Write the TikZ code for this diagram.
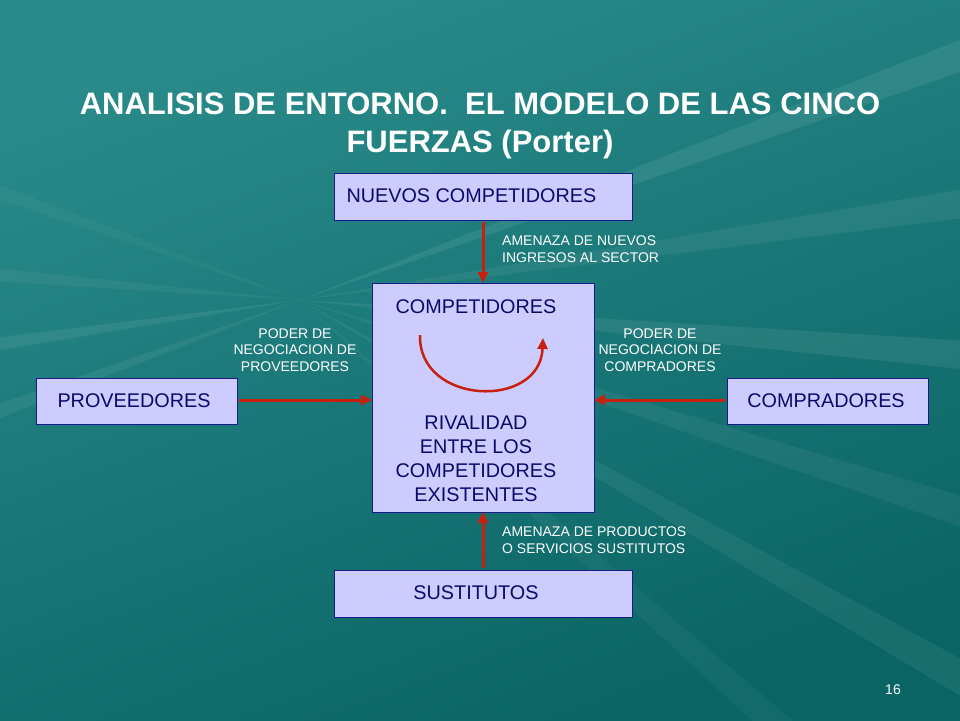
\documentclass[tikz,border=0pt]{standalone}
\usepackage{fontspec}
\setmainfont{Liberation Sans}
\usetikzlibrary{arrows.meta}
\definecolor{bgdark}{HTML}{0A6464}
\definecolor{bglight}{HTML}{2A8A8A}
\definecolor{boxfill}{HTML}{CCCCFF}
\definecolor{boxline}{HTML}{1A1A8C}
\definecolor{txtblue}{HTML}{0A0A6A}
\definecolor{arrred}{HTML}{C8200E}
\tikzset{
  force/.style={draw=boxline, fill=boxfill, line width=1pt},
  ftext/.style={text=txtblue, font=\fontsize{19.8}{24}\selectfont},
  lbl/.style={font=\fontsize{14}{16.5}\selectfont, text=white, inner sep=0pt},
  push/.style={-{Triangle[length=11pt,width=10pt]}, draw=arrred, line width=3pt}
}
\begin{document}
\begin{tikzpicture}[x=1pt, y=-1pt]
  \useasboundingbox (0,0) rectangle (960,720);
  \clip (0,0) rectangle (960,720);
  % background
  \shade[top color=bglight, bottom color=bgdark, shading angle=20] (0,0) rectangle (960,720);
  \foreach \a/\o in {-20/0.08, -8/0.06, 5/0.07, 18/0.05, 30/0.06, 42/0.04, 160/0.06, 172/0.07, 185/0.05, 200/0.04} {
    \fill[white, opacity=\o] (300,300) -- ++(\a-1.5:1400) -- ++(\a+91.5:60) -- cycle;
  }
  % title
  \node[text=white, font=\bfseries\fontsize{31}{38}\selectfont, align=center] (title) at (480,126)
    {ANALISIS DE ENTORNO.\ \ EL MODELO DE LAS CINCO\\FUERZAS (Porter)};
  % boxes
  \draw[force] (334,173) rectangle (632,220);
  \node[ftext, anchor=west] (nuevos) at (343,196) {NUEVOS COMPETIDORES};
  \draw[force] (372,283) rectangle (594,512);
  \coordinate (ctop) at (483,283);
  \coordinate (cbot) at (483,512);
  \coordinate (cleft) at (372,400);
  \coordinate (cright) at (594,400);
  \node[ftext] (comp) at (476,307) {COMPETIDORES};
  \node[ftext, align=center, font=\fontsize{19.8}{24}\selectfont] (rival) at (476,459)
    {RIVALIDAD\\ENTRE LOS\\COMPETIDORES\\EXISTENTES};
  \draw[force] (36,378) rectangle (237,424);
  \node[ftext] (prov) at (134,401) {PROVEEDORES};
  \draw[force] (727,378) rectangle (928,424);
  \node[ftext] (compr) at (826,401) {COMPRADORES};
  \draw[force] (334,570) rectangle (632,617);
  \node[ftext] (sust) at (476,593) {SUSTITUTOS};
  % arrows
  \draw[push] (483,222) -- (ctop);
  \draw[push] (483,568) -- (cbot);
  \draw[push] (239,400) -- (cleft);
  \draw[push] (725,400) -- (cright);
  \draw[push, line width=2.5pt] (420,335) .. controls (418,405) and (540,410) .. (543,338);
  % labels
  \node[lbl, anchor=north west, align=left] (ln) at (502,236) {AMENAZA DE NUEVOS\\INGRESOS AL SECTOR};
  \node[lbl, align=center] (lp) at (295,350) {PODER DE\\NEGOCIACION DE\\PROVEEDORES};
  \node[lbl, align=center] (lc) at (660,350) {PODER DE\\NEGOCIACION DE\\COMPRADORES};
  \node[lbl, anchor=north west, align=left] (ls) at (502,527) {AMENAZA DE PRODUCTOS\\O SERVICIOS SUSTITUTOS};
  \node[text=white, font=\fontsize{14}{16}\selectfont] (page) at (893,690) {16};
\end{tikzpicture}
\end{document}
